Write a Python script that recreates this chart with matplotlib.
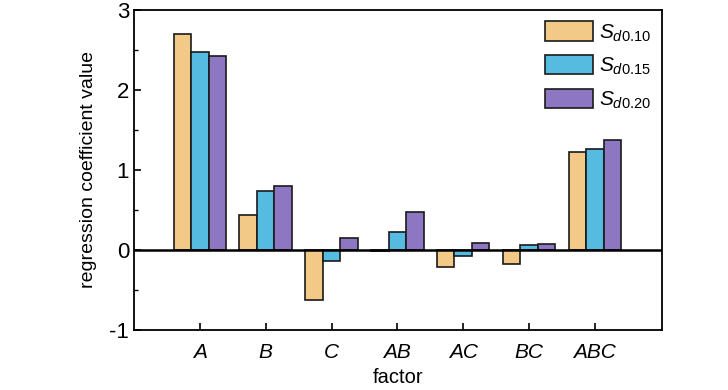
import numpy as np
import matplotlib
matplotlib.use("Agg")
import matplotlib.pyplot as plt

plt.rcParams["font.family"] = ["Liberation Sans", "DejaVu Sans"]
plt.rcParams["mathtext.fontset"] = "custom"
plt.rcParams["mathtext.rm"] = "Liberation Sans"
plt.rcParams["mathtext.it"] = "Liberation Sans:italic"
plt.rcParams["axes.unicode_minus"] = False

# ── Data ──────────────────────────────────────────────────────────────────────
factors = ["A", "B", "C", "AB", "AC", "BC", "ABC"]
s010 = [2.70, 0.44, -0.62, -0.01, -0.21, -0.18, 1.23]
s015 = [2.47, 0.74, -0.14, 0.23, -0.07, 0.06, 1.26]
s020 = [2.43, 0.80, 0.15, 0.47, 0.09, 0.08, 1.38]
labels = [r"$S_{d\mathrm{0.10}}$", r"$S_{d\mathrm{0.15}}$", r"$S_{d\mathrm{0.20}}$"]
colors = ["#F2C987", "#55BBE0", "#8E77C2"]

# ── Plot ──────────────────────────────────────────────────────────────────────
fig = plt.figure(figsize=(7.28, 3.9), dpi=100)
ax = fig.add_axes([134/728, 60/390, 528/728, 320/390])

x = np.arange(len(factors))
w = 0.266
for i, (vals, lab, c) in enumerate(zip([s010, s015, s020], labels, colors)):
    ax.bar(x + (i - 1) * w, vals, width=w, color=c, edgecolor="#1a1a1a",
           linewidth=1.2, label=lab, zorder=2)

ax.axhline(0, color="black", lw=1.8, zorder=3)
ax.set_xlim(-1, 7.02)
ax.set_ylim(-1, 3)
ax.set_xticks(x)
ax.set_xticklabels(factors, fontstyle="italic")
ax.set_yticks([-1, 0, 1, 2, 3])
ax.set_yticks(np.arange(-0.5, 3, 1), minor=True)
ax.tick_params(axis="both", direction="in", labelsize=16, width=1.2, length=5)
ax.tick_params(axis="y", which="minor", direction="in", length=3, width=1)
ax.tick_params(axis="x", labelsize=15, pad=9)
for s in ax.spines.values():
    s.set_linewidth(1.3)

ax.set_xlabel("factor", fontsize=14.5, labelpad=5)
ax.set_ylabel("regression coefficient value", fontsize=14, labelpad=9)

ax.legend(loc="upper right", frameon=False, fontsize=15, handlelength=2.3,
          handleheight=1.05, labelspacing=0.55, borderaxespad=0.15,
          handletextpad=0.25)

fig.savefig("out.png", dpi=100)
